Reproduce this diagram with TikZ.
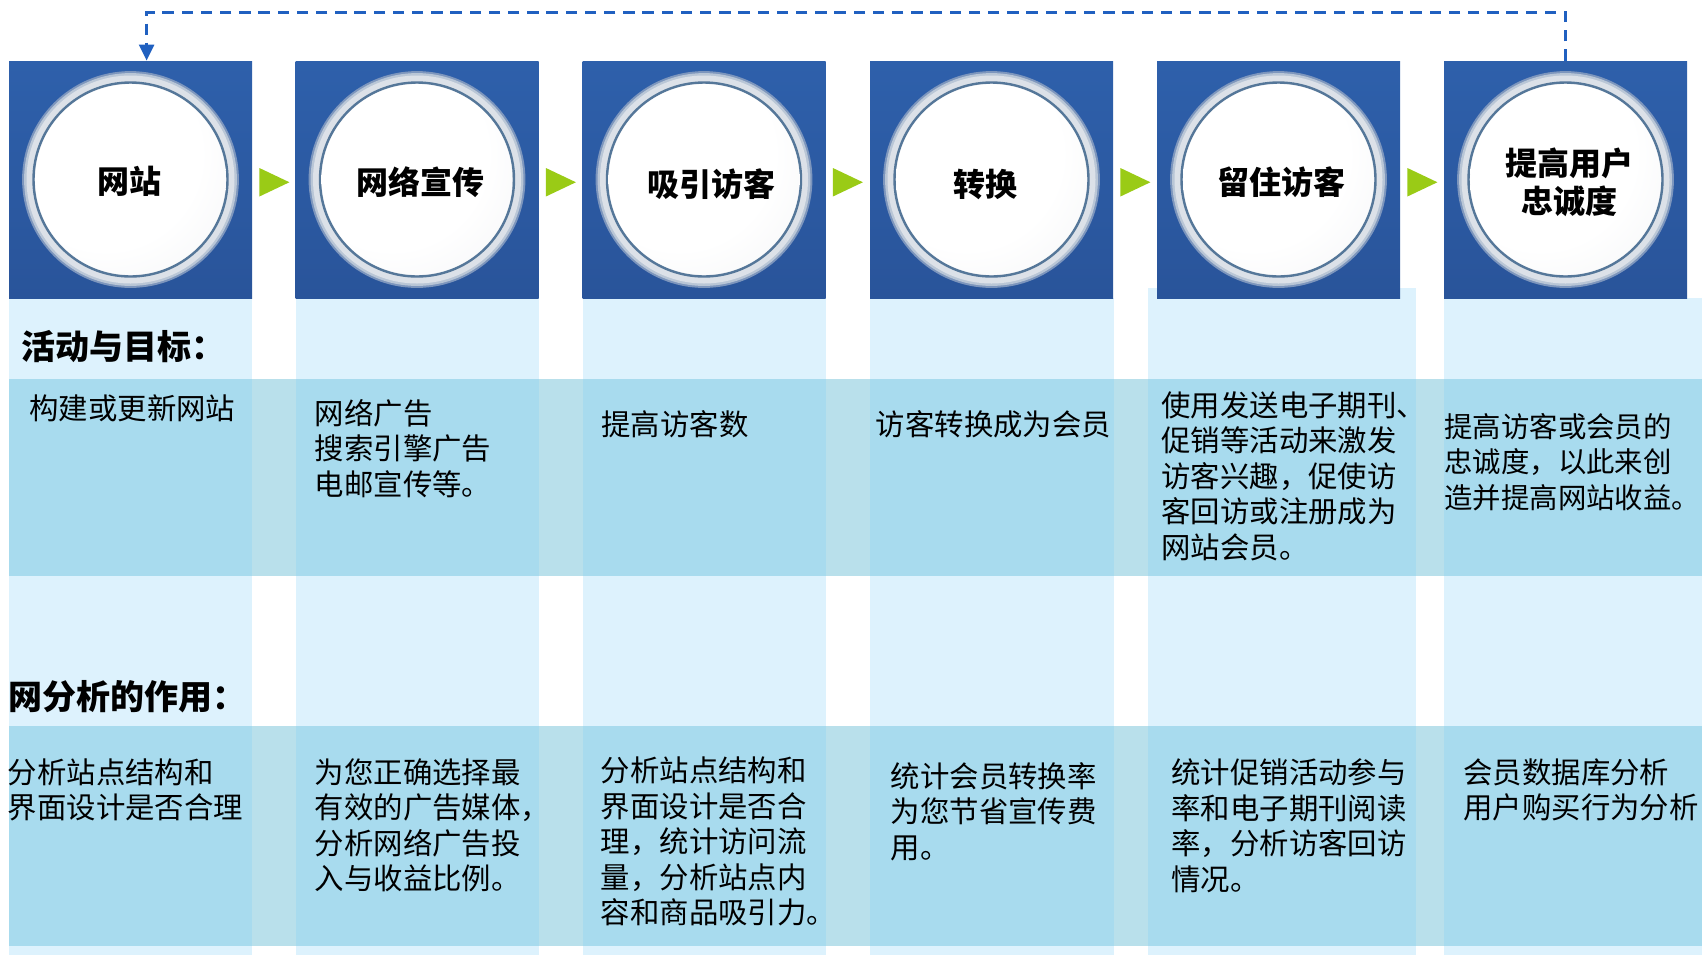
\documentclass[tikz,border=0pt]{standalone}
\usepackage{fontspec}
\newfontfamily\cjk{Noto Sans CJK SC}
\usetikzlibrary{arrows.meta,calc}
\definecolor{sqblueA}{HTML}{2E60AB}
\definecolor{sqblueB}{HTML}{29549A}
\definecolor{collight}{HTML}{DDF2FD}
\definecolor{bandcol}{HTML}{A8DBEE}
\definecolor{bandgap}{HTML}{B9E0EB}
\definecolor{arrowgreen}{HTML}{9ACB16}
\definecolor{loopblue}{HTML}{2060C0}
\definecolor{ringdark}{HTML}{557799}
\definecolor{ringlight}{HTML}{DCE1E8}
\definecolor{haloA}{HTML}{7D96BD}
\definecolor{haloB}{HTML}{B9C6D6}
\definecolor{discA}{HTML}{F2F3F5}
\definecolor{discB}{HTML}{CFD2D7}
\pgfdeclareradialshading{discshade}{\pgfpoint{-10bp}{10bp}}{color(0bp)=(white); color(25bp)=(white); color(45bp)=(discA); color(62bp)=(discB); color(75bp)=(discB)}
\begin{document}
\begin{tikzpicture}[x=0.5pt,y=-0.5pt,
  sq/.style={minimum width=121.5pt, minimum height=118.5pt, inner sep=0pt, top color=sqblueA, bottom color=sqblueB, draw=none},
  lab/.style={font=\cjk\bfseries\fontsize{16}{19.2}\selectfont, align=center, inner sep=0pt},
  head/.style={font=\cjk\bfseries\fontsize{17}{20}\selectfont, anchor=west, inner sep=0pt},
  body/.style={font=\cjk\fontsize{14.7}{17.75}\selectfont, align=left, anchor=north west, inner sep=0pt},
  greentri/.style={fill=arrowgreen},
  loopline/.style={draw=loopblue, line width=1.35pt, dash pattern=on 5.75pt off 3.85pt, -{Triangle[width=7.5pt,length=8pt]}}
]
\useasboundingbox (0,0) rectangle (1702,955);
% light columns
\foreach \xa/\xb/\ya in {9/252/298, 295.5/538.5/298, 582.5/825.5/298, 870/1113.5/298, 1148/1416/288, 1444/1702/298}
  \fill[collight] (\xa,\ya) rectangle (\xb,955);
% bands
\foreach \ya/\yb in {379/575.5, 726/945.5} {
  \fill[bandgap] (9,\ya) rectangle (1702,\yb);
  \foreach \xa/\xb in {9/252, 295.5/538.5, 582.5/825.5, 870/1113.5, 1148/1416, 1444/1702}
    \fill[bandcol] (\xa,\ya) rectangle (\xb,\yb);
}
% stages
\foreach \i/\cx/\lx/\ly/\txt in {1/130.5/129.4/181.7/{网站}, 2/417/420.4/181.7/{网络宣传}, 3/704/711/184.5/{吸引访客}, 4/991.5/985.8/184.7/{转换}, 5/1278.5/1281.7/182.5/{留住访客}, 6/1565.5/1569.8/182.5/{提高用户\\忠诚度}} {
  \node[sq] (s\i) at (\cx,179.5) {};
  \fill[haloA] (s\i.center) circle[radius=54.2pt];
  \fill[haloB] (s\i.center) circle[radius=53.2pt];
  \fill[ringlight] (s\i.center) circle[radius=52pt];
  \draw[ringdark, line width=1.2pt] (s\i.center) circle[radius=48.5pt];
  \shade[shading=discshade] (s\i.center) circle[radius=47.7pt];
  \node[lab] (c\i) at (\lx,\ly) {\txt};
}
% green arrows
\foreach \i in {1,...,5}
  \fill[greentri] ($(s\i.east)+(7,-11.5)$) -- ($(s\i.east)+(37,2.75)$) -- ($(s\i.east)+(7,17)$) -- cycle;
% feedback loop
\draw[loopline] (s6.north) -- ++(0,-48.3) -| ($(s1.north)+(16.1,0)$);
% headings
\node[head] (h1) at (21,347) {活动与目标：};
\node[head] (h2) at (8,697) {网分析的作用：};
% activities
\node[body] (t1) at (29,394.5) {构建或更新网站};
\node[body] (t2) at (314.5,399) {网络广告\\搜索引擎广告\\电邮宣传等。};
\node[body] (t3) at (601,410.4) {提高访客数};
\node[body] (t4) at (875.5,410.4) {访客转换成为会员};
\node[body] (t5) at (1161,391) {使用发送电子期刊、\\促销等活动来激发\\访客兴趣，促使访\\客回访或注册成为\\网站会员。};
\node[body, font=\cjk\fontsize{14.2}{17.75}\selectfont] (t6) at (1444,412.5) {提高访客或会员的\\忠诚度，以此来创\\造并提高网站收益。};
% analytics
\node[body] (u1) at (7.5,758.3) {分析站点结构和\\界面设计是否合理};
\node[body] (u2) at (314.5,758) {为您正确选择最\\有效的广告媒体，\\分析网络广告投\\入与收益比例。};
\node[body] (u3) at (600.5,756.7) {分析站点结构和\\界面设计是否合\\理，统计访问流\\量，分析站点内\\容和商品吸引力。};
\node[body] (u4) at (890.5,762) {统计会员转换率\\为您节省宣传费\\用。};
\node[body] (u5) at (1171,758.3) {统计促销活动参与\\率和电子期刊阅读\\率，分析访客回访\\情况。};
\node[body] (u6) at (1463,758.3) {会员数据库分析\\用户购买行为分析};
\end{tikzpicture}
\end{document}
